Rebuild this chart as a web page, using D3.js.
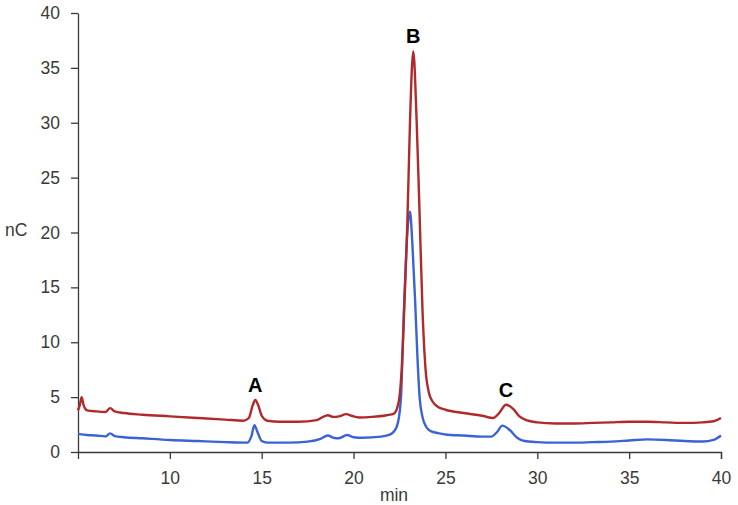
<!DOCTYPE html>
<html>
<head>
<meta charset="utf-8">
<script src="https://cdn.jsdelivr.net/npm/d3@7"></script>
<style>
  body { margin: 0; background: #fff; }
  .axis text { font-family: "Liberation Sans", Arial, sans-serif; font-size: 17.5px; fill: #3a3a3a; }
  .axis path, .axis line { stroke: #3a3a3a; stroke-width: 1.3px; }
  .title { font-family: "Liberation Sans", Arial, sans-serif; font-size: 17.5px; fill: #3a3a3a; }
  .peak-label { font-family: "Liberation Sans", Arial, sans-serif; font-size: 20px; font-weight: bold; fill: #000; }
</style>
</head>
<body>
<div id="chart"></div>
<script>
// retention time (min) and signal (nC)
var redTime = [5.0, 5.1, 5.2, 5.3, 5.5, 6.0, 6.5, 6.75, 7.0, 7.5, 8.5, 10, 11.5, 13, 14.0, 14.3, 14.5, 14.65, 14.8, 15.0, 15.3, 16, 17, 18, 18.4, 18.6, 18.9, 19.2, 19.6, 19.9, 20.3, 21, 21.8, 22.2, 22.45, 22.6, 22.78, 22.93, 23.07, 23.25, 23.43, 23.57, 23.75, 23.92, 24.1, 24.3, 24.6, 25.0, 26.0, 27.0, 27.6, 27.9, 28.3, 28.7, 29.0, 29.4, 30, 31, 32, 33, 34, 35, 36, 37, 38, 39, 39.6, 40];
var redValue = [3.8, 4.3, 5.0, 4.3, 3.8, 3.7, 3.65, 4.0, 3.7, 3.55, 3.4, 3.25, 3.1, 2.95, 2.85, 3.1, 4.2, 4.75, 4.3, 3.3, 2.85, 2.75, 2.75, 2.9, 3.25, 3.35, 3.2, 3.25, 3.45, 3.3, 3.15, 3.2, 3.35, 3.5, 4.5, 7, 14, 21, 30, 36.5, 30.3, 23, 13, 7.5, 5.4, 4.6, 4.1, 3.85, 3.55, 3.3, 3.1, 3.5, 4.3, 3.9, 3.3, 2.9, 2.7, 2.6, 2.6, 2.65, 2.7, 2.75, 2.75, 2.7, 2.65, 2.7, 2.8, 3.1];

var blueTime = [5.0, 5.5, 6.0, 6.5, 6.75, 7.0, 7.5, 8.5, 10, 11.5, 13, 14.2, 14.45, 14.6, 14.75, 15.0, 15.3, 16.5, 17.5, 18.2, 18.6, 18.9, 19.2, 19.65, 20.0, 20.5, 21.5, 22.0, 22.35, 22.57, 22.76, 22.95, 23.07, 23.2, 23.35, 23.48, 23.6, 23.75, 23.95, 24.2, 24.6, 25, 26, 27, 27.5, 27.8, 28.1, 28.5, 28.9, 29.3, 30, 31, 32, 33, 34, 35, 36, 37, 38, 39, 39.6, 40];
var blueValue = [1.65, 1.55, 1.5, 1.42, 1.7, 1.45, 1.35, 1.25, 1.1, 1.0, 0.9, 0.85, 1.5, 2.45, 1.9, 1.0, 0.85, 0.85, 0.95, 1.2, 1.5, 1.3, 1.25, 1.55, 1.35, 1.3, 1.4, 1.6, 2.3, 4.7, 13.8, 20.5, 21.9, 19, 13.8, 8.5, 4.9, 3.2, 2.3, 1.9, 1.72, 1.6, 1.5, 1.4, 1.4, 1.8, 2.4, 2.0, 1.3, 1.0, 0.9, 0.85, 0.85, 0.9, 0.95, 1.05, 1.15, 1.1, 1.0, 0.95, 1.1, 1.5];

var xTicks = [10, 15, 20, 25, 30, 35, 40];
var yTicks = [0, 5, 10, 15, 20, 25, 30, 35, 40];

var peakNames = ['A', 'B', 'C'];
var peakTime = [14.65, 23.25, 28.3];
var peakTop = [4.75, 36.5, 4.3];

var svgWidth = 738, svgHeight = 505;
var margin = { top: 13, right: 17, bottom: 53, left: 78 };
var chartWidth = svgWidth - margin.left - margin.right;
var chartHeight = svgHeight - margin.top - margin.bottom;

var svg = d3.select('#chart').append('svg')
    .attr('width', svgWidth)
    .attr('height', svgHeight);

var g = svg.append('g')
    .attr('transform', 'translate(' + [margin.left, margin.top] + ')');

var xScale = d3.scaleLinear().domain([5, 40]).range([0, chartWidth]);
var yScale = d3.scaleLinear().domain([0, 40]).range([chartHeight, 0]);

// X axis
g.append('g')
    .attr('class', 'axis axis-x')
    .attr('transform', 'translate(0,' + chartHeight + ')')
    .call(d3.axisBottom(xScale)
        .tickValues(xTicks)
        .tickSizeInner(7)
        .tickSizeOuter(7)
        .tickPadding(13)
        .tickFormat(d3.format('d')));

// Y axis
g.append('g')
    .attr('class', 'axis axis-y')
    .call(d3.axisLeft(yScale)
        .tickValues(yTicks)
        .tickSizeInner(7)
        .tickSizeOuter(0)
        .tickPadding(11)
        .tickFormat(d3.format('d')));

// axis titles
svg.append('text')
    .attr('class', 'title')
    .attr('x', margin.left + xScale(22.2))
    .attr('y', 501)
    .attr('text-anchor', 'middle')
    .text('min');

svg.append('text')
    .attr('class', 'title')
    .attr('x', 5)
    .attr('y', 236)
    .text('nC');

var line = d3.line()
    .x(function (d) { return xScale(d[0]); })
    .y(function (d) { return yScale(d[1]); })
    .curve(d3.curveMonotoneX);

var redData = d3.zip(redTime, redValue);
var blueData = d3.zip(blueTime, blueValue);

g.append('path')
    .datum(blueData)
    .attr('fill', 'none')
    .attr('stroke', '#3b63d6')
    .attr('stroke-width', 2.4)
    .attr('stroke-linejoin', 'round')
    .attr('d', line);

g.append('path')
    .datum(redData)
    .attr('fill', 'none')
    .attr('stroke', '#b02a2c')
    .attr('stroke-width', 2.4)
    .attr('stroke-linejoin', 'round')
    .attr('d', line);

// peak labels
g.selectAll('.peak-label')
    .data(peakNames)
    .enter()
    .append('text')
    .attr('class', 'peak-label')
    .attr('text-anchor', 'middle')
    .attr('x', function (d, i) { return xScale(peakTime[i]); })
    .attr('y', function (d, i) { return yScale(peakTop[i]) - 8; })
    .text(function (d) { return d; });
</script>
</body>
</html>
